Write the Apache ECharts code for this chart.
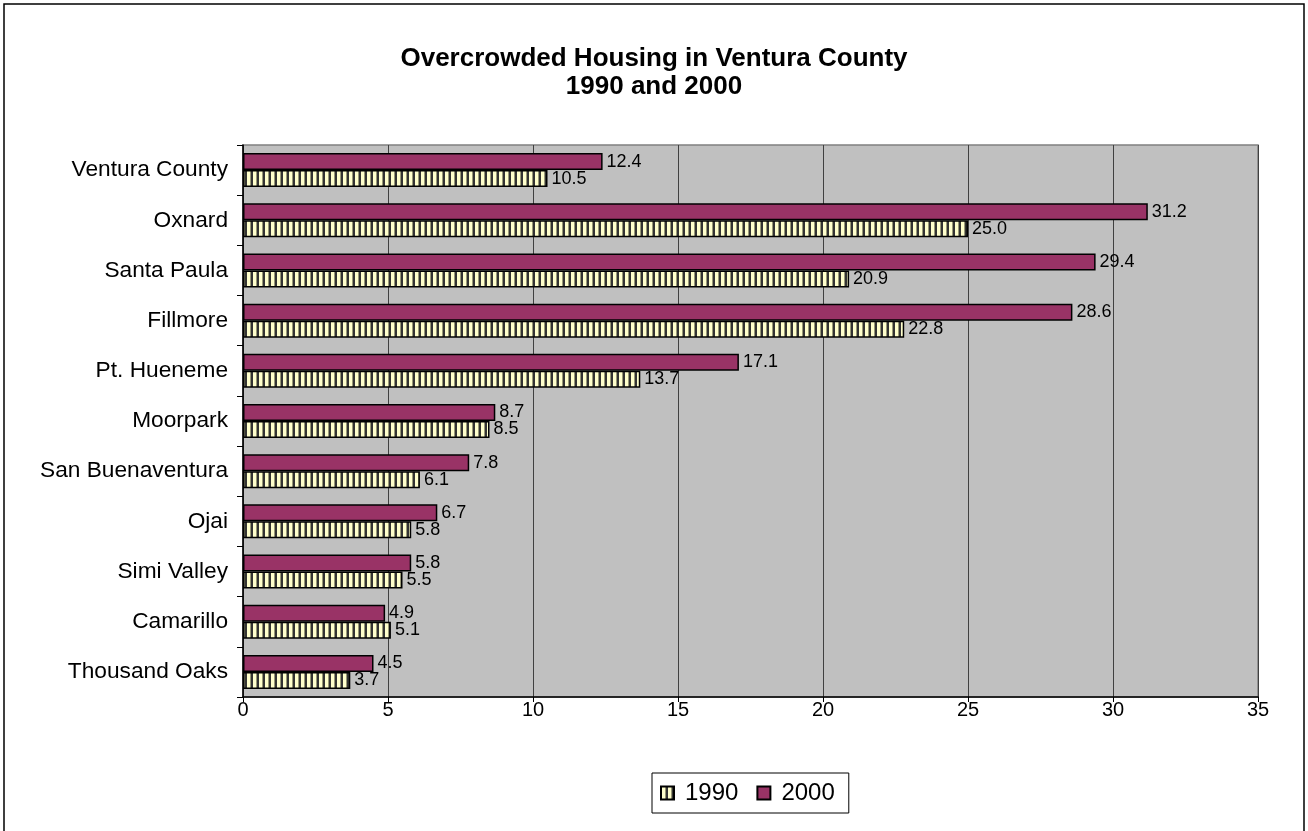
<!DOCTYPE html>
<html>
<head>
<meta charset="utf-8">
<script src="https://cdn.jsdelivr.net/npm/echarts@6/dist/echarts.min.js"></script>
<style>
html,body{margin:0;padding:0;background:#fff;}
#chart{width:1308px;height:831px;}
</style>
</head>
<body>
<div id="chart"></div>
<script>
const categories = ['Ventura County','Oxnard','Santa Paula','Fillmore','Pt. Hueneme','Moorpark','San Buenaventura','Ojai','Simi Valley','Camarillo','Thousand Oaks'];
const values1990 = [10.5, 25.0, 20.9, 22.8, 13.7, 8.5, 6.1, 5.8, 5.5, 5.1, 3.7];
const values2000 = [12.4, 31.2, 29.4, 28.6, 17.1, 8.7, 7.8, 6.7, 5.8, 4.9, 4.5];
const xTicks = [0, 5, 10, 15, 20, 25, 30, 35];

// striped pattern for 1990
const pc = document.createElement('canvas');
pc.width = 6; pc.height = 4;
const pctx = pc.getContext('2d');
const stripe = ['#333333','#ffffcc','#ffffcc','#ffffcc','#999977','#333333'];
stripe.forEach((c,i)=>{pctx.fillStyle=c;pctx.fillRect(i,0,1,4);});

const chart = echarts.init(document.getElementById('chart'));
const font = 'Arial, "Liberation Sans", sans-serif';
const labelFmt = p => p.value.toFixed(1);
chart.setOption({
  animation: false,
  backgroundColor: '#ffffff',
  textStyle: {fontFamily: font},
  title: {
    text: 'Overcrowded Housing in Ventura County\n1990 and 2000',
    left: 'center',
    top: 40,
    textStyle: {fontSize: 26, fontWeight: 'bold', color: '#000', lineHeight: 28, fontFamily: font}
  },
  graphic: [{
    type: 'rect',
    shape: {x: 4, y: 4, width: 1300, height: 840},
    style: {fill: 'none', stroke: '#000', lineWidth: 1.5},
    silent: true
  }],
  legend: {
    data: ['1990', '2000'],
    left: 652,
    top: 773,
    orient: 'horizontal',
    itemWidth: 13,
    itemHeight: 13,
    itemGap: 18,
    padding: [8, 14, 8, 8],
    borderColor: '#000',
    borderWidth: 1,
    icon: 'rect',
    textStyle: {fontSize: 24, color: '#000', fontFamily: font, padding: [0,0,0,6]}
  },
  grid: {
    left: 243, right: 50, top: 145, bottom: 134,
    show: true, backgroundColor: '#c0c0c0', borderColor: '#808080', borderWidth: 1.5,
    containLabel: false
  },
  xAxis: {
    type: 'value',
    min: xTicks[0], max: xTicks[xTicks.length-1], interval: 5,
    axisLine: {show: true, lineStyle: {color: '#000', width: 1.5}},
    axisTick: {show: true, length: 5, lineStyle: {color: '#000'}},
    axisLabel: {fontSize: 20, color: '#000', margin: 3, fontFamily: font},
    splitLine: {show: true, lineStyle: {color: '#404040', width: 1}}
  },
  yAxis: {
    type: 'category',
    data: categories,
    inverse: true,
    axisLine: {show: true, lineStyle: {color: '#000', width: 1.5}},
    axisTick: {show: true, length: 6, lineStyle: {color: '#000'}},
    axisLabel: {fontSize: 22.7, color: '#000', margin: 15, fontFamily: font},
    splitLine: {show: false}
  },
  series: [
    {
      name: '2000', type: 'bar', data: values2000,
      barWidth: 17, barGap: '0%',
      itemStyle: {color: '#993366', borderColor: '#000', borderWidth: 1.5},
      label: {show: true, position: 'right', distance: 4, fontSize: 18, color: '#000', fontFamily: font, formatter: labelFmt}
    },
    {
      name: '1990', type: 'bar', data: values1990,
      barWidth: 17, barGap: '0%',
      itemStyle: {color: {image: pc, repeat: 'repeat'}, borderColor: '#000', borderWidth: 1.5},
      label: {show: true, position: 'right', distance: 4, fontSize: 18, color: '#000', fontFamily: font, formatter: labelFmt}
    }
  ]
});
</script>
</body>
</html>
